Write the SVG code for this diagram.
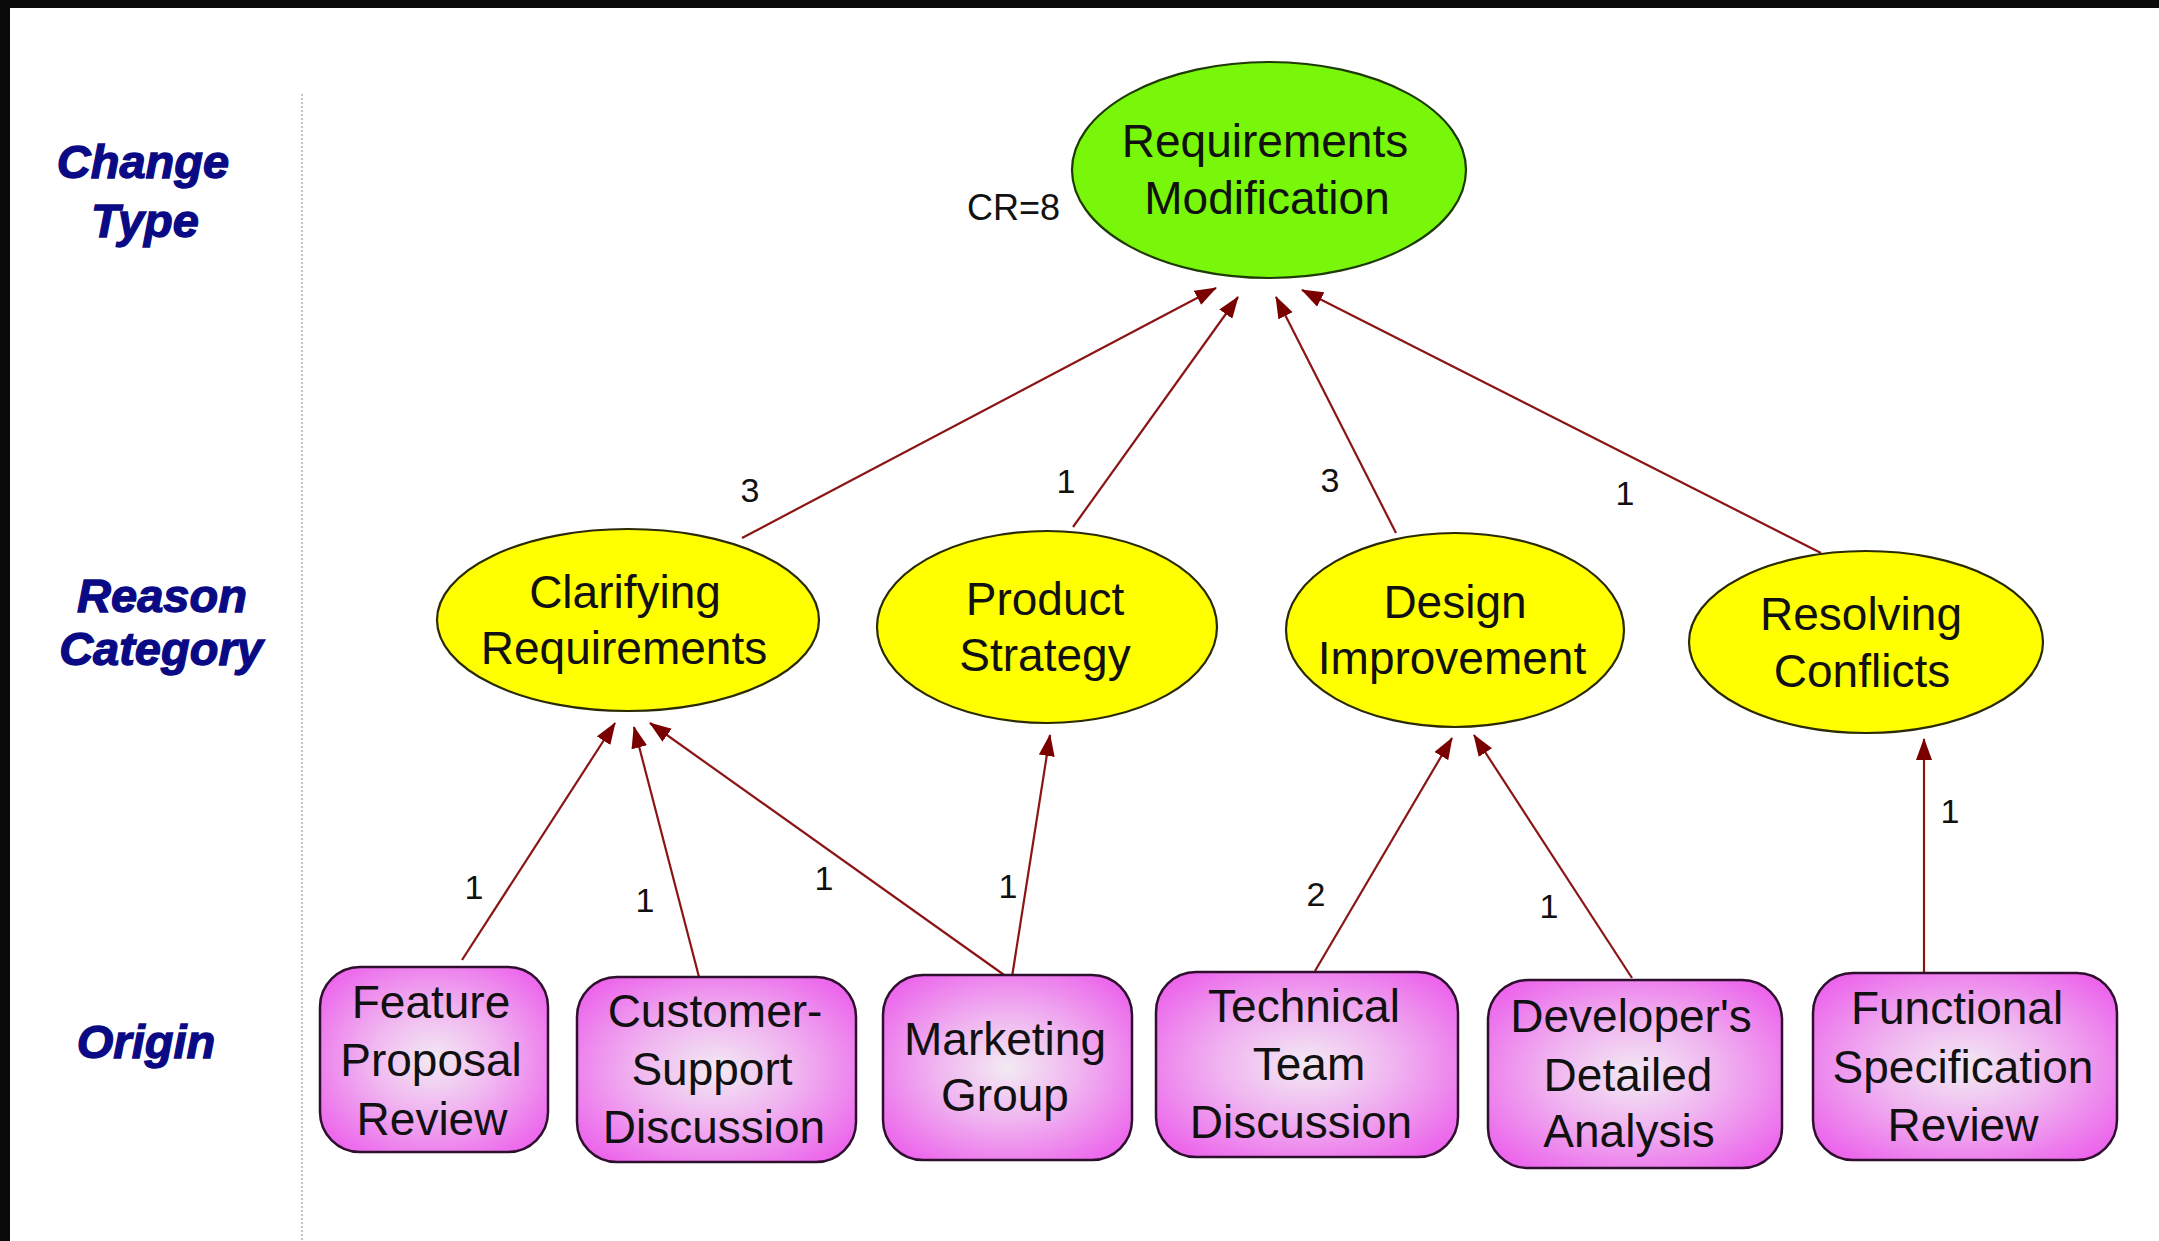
<svg xmlns="http://www.w3.org/2000/svg" width="2159" height="1241" viewBox="0 0 2159 1241">
  <style>
    .lvl { font-family: "Liberation Sans", Arial, sans-serif; font-weight: bold; font-style: italic; font-size: 47px; fill: #0a0a84; stroke: #0a0a84; stroke-width: 1.3; text-anchor: middle; }
    .nt { font-family: "Liberation Sans", Arial, sans-serif; font-size: 46px; fill: #111; text-anchor: middle; }
    .num { font-family: "Liberation Sans", Arial, sans-serif; font-size: 34px; fill: #111; text-anchor: middle; }
    .ell-y { fill: #ffff00; stroke: #2a2a05; stroke-width: 2.2; }
    .ell-g { fill: #78f70a; stroke: #1e3a05; stroke-width: 2.2; }
    .box { fill: url(#pink); stroke: #2e102e; stroke-width: 2.5; }
    .conn { stroke: #8b1414; stroke-width: 2.2; fill: none; marker-end: url(#arr); }
  </style>
  <defs>
    <radialGradient id="pink" cx="50%" cy="50%" r="62%">
      <stop offset="0" stop-color="#f3eaf3"/>
      <stop offset="0.45" stop-color="#f0b6f0"/>
      <stop offset="1" stop-color="#ec66ec"/>
    </radialGradient>
    <marker id="arr" markerUnits="userSpaceOnUse" markerWidth="22" markerHeight="16" refX="21" refY="8" orient="auto">
      <path d="M0,0 L22,8 L0,16 z" fill="#7a0000"/>
    </marker>
  </defs>

  <rect x="0" y="0" width="2159" height="1241" fill="#ffffff"/>
  <rect x="0" y="0" width="2159" height="8" fill="#0a0a0a"/>
  <rect x="0" y="0" width="10" height="1241" fill="#0a0a0a"/>

  <line x1="302" y1="94" x2="302" y2="1241" stroke="#c4c4c4" stroke-width="2" stroke-dasharray="2 2"/>

  <g id="level-labels">
    <text class="lvl" x="143" y="178">Change</text>
    <text class="lvl" x="145" y="237">Type</text>
    <text class="lvl" x="162" y="612">Reason</text>
    <text class="lvl" x="161" y="665">Category</text>
    <text class="lvl" x="146" y="1058">Origin</text>
  </g>

  <g id="connectors">
    <line class="conn" x1="742" y1="538" x2="1216" y2="288"/>
    <line class="conn" x1="1073" y1="527" x2="1238" y2="297"/>
    <line class="conn" x1="1396" y1="533" x2="1276" y2="297"/>
    <line class="conn" x1="1821" y1="553" x2="1302" y2="290"/>
    <line class="conn" x1="462" y1="960" x2="615" y2="723"/>
    <line class="conn" x1="699" y1="977" x2="634" y2="727"/>
    <line class="conn" x1="1007" y1="977" x2="650" y2="723"/>
    <line class="conn" x1="1012" y1="977" x2="1050" y2="735"/>
    <line class="conn" x1="1315" y1="971" x2="1452" y2="738"/>
    <line class="conn" x1="1632" y1="978" x2="1474" y2="735"/>
    <line class="conn" x1="1924" y1="975" x2="1924" y2="739"/>
    <text class="num" x="750" y="502">3</text>
    <text class="num" x="1066" y="493">1</text>
    <text class="num" x="1330" y="492">3</text>
    <text class="num" x="1625" y="505">1</text>
    <text class="num" x="474" y="899">1</text>
    <text class="num" x="645" y="912">1</text>
    <text class="num" x="824" y="890">1</text>
    <text class="num" x="1008" y="898">1</text>
    <text class="num" x="1316" y="906">2</text>
    <text class="num" x="1549" y="918">1</text>
    <text class="num" x="1950" y="823">1</text>
  </g>

  <g id="node-requirements-modification">
    <ellipse class="ell-g" cx="1269" cy="170" rx="197" ry="108"/>
    <text class="nt" x="1265" y="157">Requirements</text>
    <text class="nt" x="1267" y="214">Modification</text>
    <text class="num" x="1060" y="220" style="text-anchor:end;font-size:36px">CR=8</text>
  </g>

  <g id="node-clarifying-requirements">
    <ellipse class="ell-y" cx="628" cy="620" rx="191" ry="91"/>
    <text class="nt" x="625" y="608">Clarifying</text>
    <text class="nt" x="624" y="664">Requirements</text>
  </g>
  <g id="node-product-strategy">
    <ellipse class="ell-y" cx="1047" cy="627" rx="170" ry="96"/>
    <text class="nt" x="1045" y="615">Product</text>
    <text class="nt" x="1045" y="671">Strategy</text>
  </g>
  <g id="node-design-improvement">
    <ellipse class="ell-y" cx="1455" cy="630" rx="169" ry="97"/>
    <text class="nt" x="1455" y="618">Design</text>
    <text class="nt" x="1452" y="674">Improvement</text>
  </g>
  <g id="node-resolving-conflicts">
    <ellipse class="ell-y" cx="1866" cy="642" rx="177" ry="91"/>
    <text class="nt" x="1861" y="630">Resolving</text>
    <text class="nt" x="1862" y="687">Conflicts</text>
  </g>

  <g id="node-feature-proposal-review">
    <rect class="box" x="320" y="967" width="228" height="185" rx="40" ry="40"/>
    <text class="nt" x="431" y="1018">Feature</text>
    <text class="nt" x="431" y="1076">Proposal</text>
    <text class="nt" x="432" y="1135">Review</text>
  </g>
  <g id="node-customer-support-discussion">
    <rect class="box" x="577" y="977" width="279" height="185" rx="40" ry="40"/>
    <text class="nt" x="715" y="1027">Customer-</text>
    <text class="nt" x="712" y="1085">Support</text>
    <text class="nt" x="714" y="1143">Discussion</text>
  </g>
  <g id="node-marketing-group">
    <rect class="box" x="883" y="975" width="249" height="185" rx="40" ry="40"/>
    <text class="nt" x="1005" y="1055">Marketing</text>
    <text class="nt" x="1005" y="1111">Group</text>
  </g>
  <g id="node-technical-team-discussion">
    <rect class="box" x="1156" y="972" width="302" height="185" rx="40" ry="40"/>
    <text class="nt" x="1304" y="1022">Technical</text>
    <text class="nt" x="1309" y="1080">Team</text>
    <text class="nt" x="1301" y="1138">Discussion</text>
  </g>
  <g id="node-developers-detailed-analysis">
    <rect class="box" x="1488" y="980" width="294" height="188" rx="40" ry="40"/>
    <text class="nt" x="1631" y="1032">Developer's</text>
    <text class="nt" x="1628" y="1091">Detailed</text>
    <text class="nt" x="1629" y="1147">Analysis</text>
  </g>
  <g id="node-functional-specification-review">
    <rect class="box" x="1813" y="973" width="304" height="187" rx="40" ry="40"/>
    <text class="nt" x="1957" y="1024">Functional</text>
    <text class="nt" x="1963" y="1083">Specification</text>
    <text class="nt" x="1963" y="1141">Review</text>
  </g>
</svg>
